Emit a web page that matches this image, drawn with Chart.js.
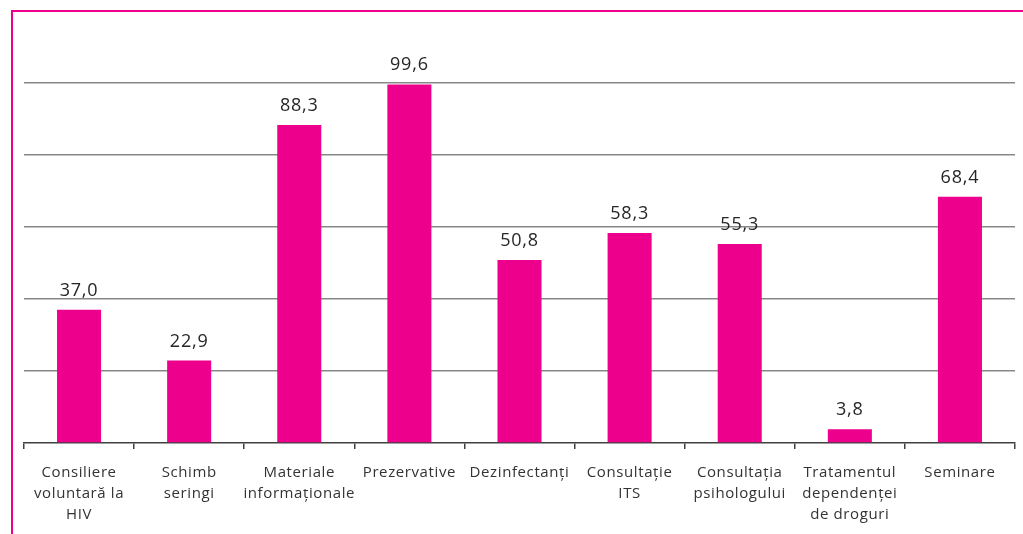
<!DOCTYPE html>
<html>
<head>
<meta charset="utf-8">
<script src="https://cdn.jsdelivr.net/npm/chart.js@4/dist/chart.umd.min.js"></script>
<style>
html,body{margin:0;padding:0;background:#fff;}
#wrap{position:relative;width:1023px;height:534px;overflow:hidden;}
#frame{position:absolute;left:11px;top:10px;right:-10px;bottom:-10px;border-top:2px solid #EC008C;border-left:2px solid #EC008C;pointer-events:none;}
canvas{position:absolute;left:0;top:0;}
</style>
</head>
<body>
<div id="wrap">
<canvas id="c" width="1023" height="534"></canvas>
<div id="frame"></div>
</div>
<script>
const categories = [
  ["Consiliere","voluntară la","HIV"],
  ["Schimb","seringi"],
  ["Materiale","informaționale"],
  "Prezervative",
  "Dezinfectanți",
  ["Consultație","ITS"],
  ["Consultația","psihologului"],
  ["Tratamentul","dependenței","de droguri"],
  "Seminare"
];
const values = [37.0, 22.9, 88.3, 99.6, 50.8, 58.3, 55.3, 3.8, 68.4];
const yMin = 0, yMax = 100, yStep = 20;

const BAR = '#EC008C';
const FONT = '"Open Sans", "Liberation Sans", sans-serif';

const spacing = {
  id: 'spacing',
  beforeDraw(chart){ chart.ctx.letterSpacing = '0.6px'; }
};

const valueLabels = {
  id: 'valueLabels',
  afterDatasetsDraw(chart){
    const ctx = chart.ctx;
    const meta = chart.getDatasetMeta(0);
    ctx.save();
    ctx.letterSpacing = '0.8px';
    ctx.font = '18px ' + FONT;
    ctx.fillStyle = '#262626';
    ctx.textAlign = 'center';
    ctx.textBaseline = 'alphabetic';
    meta.data.forEach((bar, i) => {
      const txt = values[i].toFixed(1).replace('.', ',');
      ctx.fillText(txt, bar.x, bar.y - 14);
    });
    ctx.restore();
  }
};

new Chart(document.getElementById('c'), {
  type: 'bar',
  data: {
    labels: categories,
    datasets: [{
      data: values,
      backgroundColor: BAR,
      borderWidth: 0,
      categoryPercentage: 1,
      barPercentage: 0.4
    }]
  },
  options: {
    responsive: false,
    animation: false,
    devicePixelRatio: 1,
    layout: { padding: { left: 24, right: 8, top: 83, bottom: 0 } },
    plugins: { legend: { display: false }, tooltip: { enabled: false } },
    scales: {
      x: {
        grid: { display: true, drawOnChartArea: false, drawTicks: true, tickLength: 6, color: '#404040', lineWidth: 1.5, offset: true },
        border: { display: true, color: '#404040', width: 1.5 },
        ticks: { color: '#333333', font: { family: FONT, size: 15, lineHeight: 1.4 }, padding: 13, maxRotation: 0, autoSkip: false },
        afterFit(s){ s.height = 91; }
      },
      y: {
        min: yMin, max: yMax,
        ticks: { display: false, stepSize: yStep },
        grid: { drawTicks: false, lineWidth: 1.5, color: (c) => c.tick && c.tick.value === 0 ? 'rgba(0,0,0,0)' : '#878787' },
        border: { display: false },
        afterFit(s){ s.width = 0; }
      }
    }
  },
  plugins: [spacing, valueLabels]
});
</script>
</body>
</html>
